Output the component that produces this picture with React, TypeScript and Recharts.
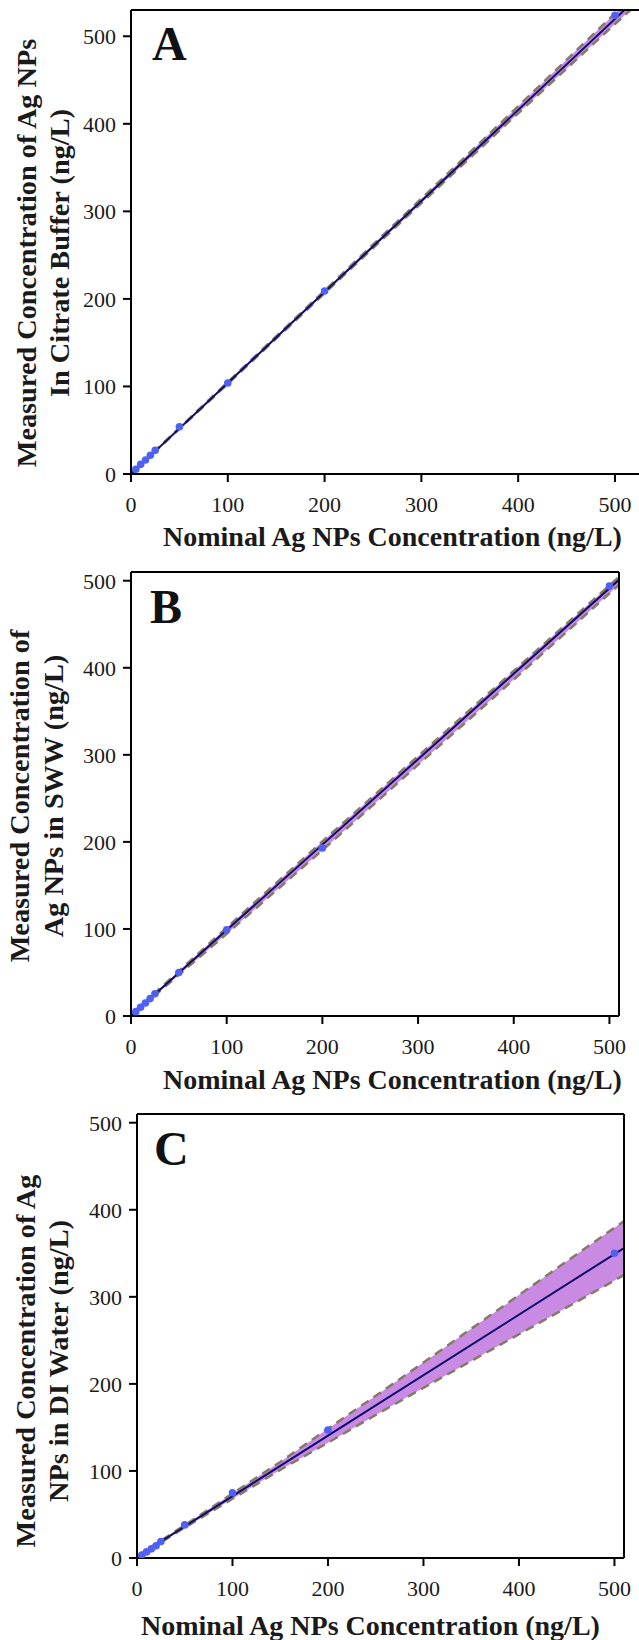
import React from 'react';
import { ComposedChart, Area, Line, Scatter, XAxis, YAxis, ReferenceLine } from 'recharts';

// nominal spike levels (ng/L), same for all three matrices
const nominal = [5, 10, 15, 20, 25, 50, 100, 200, 500];

// measured concentrations
const measuredA = [5.5, 11, 16, 21.5, 27, 54, 104, 209, 524];
const measuredB = [5, 10, 15, 20, 25.5, 50, 99, 193, 494];
const measuredC = [3.5, 7, 10.5, 14, 19, 38, 75, 147, 350];

// fitted regression lines (end points)
const fitXA = [0, 530];
const fitYA = [0, 551];
const fitXB = [0, 510];
const fitYB = [0.5, 501];
const fitXC = [0, 510];
const fitYC = [1.5, 356];

// confidence bands
const bandXA = [0, 100, 200, 300, 400, 500, 530];
const bandLoA = [0, 103, 206.5, 309.5, 412, 514, 544];
const bandHiA = [0.5, 105, 209.5, 314.5, 420, 526, 558];

const bandXB = [0, 100, 200, 300, 400, 510];
const bandLoB = [0, 94.5, 190.5, 288.5, 386.5, 495.3];
const bandHiB = [1.5, 101.5, 200.5, 298.5, 396.5, 504.3];

const bandXC = [0, 50, 100, 150, 200, 250, 300, 350, 400, 450, 510];
const bandLoC = [1, 34.8, 68, 101.3, 132.5, 164.3, 195.5, 226.3, 257, 287.8, 325];
const bandHiC = [2, 37.8, 74, 110.3, 148.5, 186.3, 224.5, 263.3, 302, 340.8, 387];

const axisTicks = [0, 100, 200, 300, 400, 500];

const serif = '"Liberation Serif", "Times New Roman", serif';

const Dot = (props: any) => <circle cx={props.cx} cy={props.cy} r={3.8} fill="#4f60f2" />;

interface PanelProps {
  top: number;
  width: number;
  height: number;
  margin: { top: number; right: number; left: number; bottom: number };
  yAxisWidth: number;
  xAxisHeight: number;
  xMax: number;
  yMax: number;
  measured: number[];
  fitX: number[];
  fitY: number[];
  bandX: number[];
  bandLo: number[];
  bandHi: number[];
}

const Panel = (p: PanelProps) => {
  const points = nominal.map((x, i) => ({ x, y: p.measured[i] }));
  const fit = p.fitX.map((x, i) => ({ x, fit: p.fitY[i] }));
  const band = p.bandX.map((x, i) => ({ x, lo: p.bandLo[i], hi: p.bandHi[i], band: [p.bandLo[i], p.bandHi[i]] }));
  const tick = { fontFamily: serif, fontSize: 22, fill: '#1a1a1a' };
  return (
    <div style={{ position: 'absolute', left: 0, top: p.top }}>
      <ComposedChart width={p.width} height={p.height} margin={p.margin}>
        <XAxis
          dataKey="x"
          type="number"
          domain={[0, p.xMax]}
          ticks={axisTicks}
          allowDataOverflow={true}
          height={p.xAxisHeight}
          tick={tick}
          tickSize={8}
          tickMargin={14}
          axisLine={{ stroke: '#000', strokeWidth: 2 }}
          tickLine={{ stroke: '#000', strokeWidth: 2 }}
        />
        <YAxis
          type="number"
          domain={[0, p.yMax]}
          ticks={axisTicks}
          allowDataOverflow={true}
          width={p.yAxisWidth}
          tick={tick}
          tickSize={8}
          tickMargin={7}
          axisLine={{ stroke: '#000', strokeWidth: 2 }}
          tickLine={{ stroke: '#000', strokeWidth: 2 }}
        />
        <Area data={band} dataKey="band" type="linear" stroke="none" fill="#c98ae3" fillOpacity={1} isAnimationActive={false} />
        <Line data={band} dataKey="hi" type="linear" stroke="#857a66" strokeWidth={2.5} strokeDasharray="9 6" dot={false} isAnimationActive={false} />
        <Line data={band} dataKey="lo" type="linear" stroke="#857a66" strokeWidth={2.5} strokeDasharray="9 6" dot={false} isAnimationActive={false} />
        <Line data={fit} dataKey="fit" type="linear" stroke="#0c0c6a" strokeWidth={2} dot={false} isAnimationActive={false} />
        <Scatter data={points} dataKey="y" shape={Dot} isAnimationActive={false} />
        <ReferenceLine y={p.yMax} stroke="#000" strokeWidth={2} />
        <ReferenceLine x={p.xMax} stroke="#000" strokeWidth={2} />
      </ComposedChart>
    </div>
  );
};

const YTitle = ({ x1, x2, cy, l1, l2 }: { x1: number; x2: number; cy: number; l1: string; l2: string }) => (
  <g fontFamily={serif} fontWeight="bold" fontSize={28.3} fill="#1a1a1a" textAnchor="middle">
    <text transform={`translate(${x1},${cy}) rotate(-90)`}>{l1}</text>
    <text transform={`translate(${x2},${cy}) rotate(-90)`}>{l2}</text>
  </g>
);

export default function App() {
  const xTitle = 'Nominal Ag NPs Concentration (ng/L)';
  return (
    <div style={{ position: 'absolute', left: 0, top: 0, width: 639, height: 1640, overflow: 'hidden', background: '#fff' }}>
      <Panel
        top={0} width={680} height={560}
        margin={{ top: 10, right: 36, left: 0, bottom: 0 }}
        yAxisWidth={131} xAxisHeight={86}
        xMax={530} yMax={530}
        measured={measuredA} fitX={fitXA} fitY={fitYA}
        bandX={bandXA} bandLo={bandLoA} bandHi={bandHiA}
      />
      <Panel
        top={540} width={639} height={560}
        margin={{ top: 32, right: 20, left: 0, bottom: 0 }}
        yAxisWidth={131} xAxisHeight={84}
        xMax={510} yMax={510}
        measured={measuredB} fitX={fitXB} fitY={fitYB}
        bandX={bandXB} bandLo={bandLoB} bandHi={bandHiB}
      />
      <Panel
        top={1080} width={639} height={560}
        margin={{ top: 34, right: 15, left: 0, bottom: 0 }}
        yAxisWidth={137} xAxisHeight={82}
        xMax={510} yMax={510}
        measured={measuredC} fitX={fitXC} fitY={fitYC}
        bandX={bandXC} bandLo={bandLoC} bandHi={bandHiC}
      />
      <svg width={639} height={1640} style={{ position: 'absolute', left: 0, top: 0, pointerEvents: 'none' }}>
        <g fontFamily={serif} fontWeight="bold" fontSize={48} fill="#111">
          <text x={152} y={60}>A</text>
          <text x={150} y={623}>B</text>
          <text x={154} y={1165}>C</text>
        </g>
        <g fontFamily={serif} fontWeight="bold" fontSize={28} fill="#1a1a1a">
          <text x={163} y={546}>{xTitle}</text>
          <text x={163} y={1089}>{xTitle}</text>
          <text x={141} y={1635}>{xTitle}</text>
        </g>
        <YTitle x1={36} x2={69} cy={253} l1="Measured Concentration of Ag NPs" l2="In Citrate Buffer (ng/L)" />
        <YTitle x1={29} x2={63} cy={796} l1="Measured Concentration of" l2="Ag NPs in SWW (ng/L)" />
        <YTitle x1={35} x2={67.5} cy={1361} l1="Measured Concentration of Ag" l2="NPs in DI Water (ng/L)" />
      </svg>
    </div>
  );
}
